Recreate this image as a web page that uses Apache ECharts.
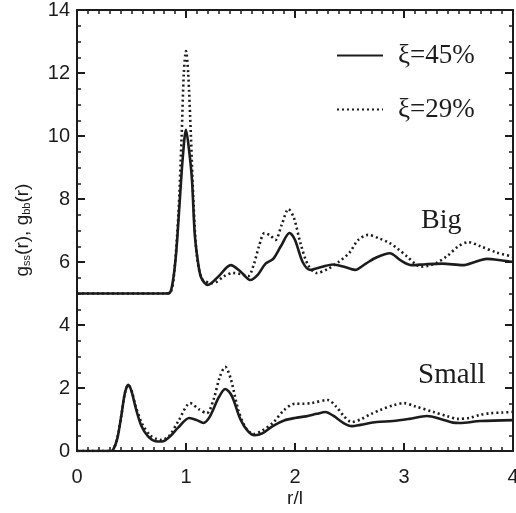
<!DOCTYPE html>
<html>
<head>
<meta charset="utf-8">
<script src="https://cdn.jsdelivr.net/npm/echarts@6/dist/echarts.min.js"></script>
<style>html,body{margin:0;padding:0;background:#fff}#c{width:516px;height:513px}</style>
</head>
<body>
<div id="c"></div>
<script>
// Series names
var nameA = 'ξ=45%';
var nameB = 'ξ=29%';
// Axis titles
var xTitle = 'r/l';
var yTitle = 'g{s|ss}(r), g{s|bb}(r)';
// Axis ticks
var xTicks = [0, 1, 2, 3, 4];
var yTicks = [0, 2, 4, 6, 8, 10, 12, 14];

// Big particles, xi = 45% (solid)
var bigR45 = [0,0.8,0.85,0.88,0.91,0.94,0.97,1.0,1.03,1.055,1.08,1.11,1.14,1.2,1.3,1.41,1.5,1.59,1.66,1.73,1.8,1.87,1.95,2.0,2.07,2.14,2.25,2.35,2.45,2.55,2.65,2.75,2.87,2.97,3.07,3.2,3.35,3.54,3.65,3.76,3.9,4.0];
var bigG45 = [5,5,5.02,5.4,6.3,7.8,9.3,10.2,9.5,8.6,6.9,6.0,5.5,5.27,5.55,5.9,5.7,5.43,5.6,5.95,6.1,6.5,6.92,6.7,6.0,5.75,5.85,5.92,5.85,5.75,5.95,6.15,6.28,6.05,5.9,5.93,5.95,5.9,6.0,6.1,6.05,6.0];
// Big particles, xi = 29% (dotted)
var bigR29 = [0,0.8,0.86,0.89,0.93,0.96,0.98,1.0,1.02,1.045,1.07,1.1,1.15,1.25,1.35,1.43,1.5,1.57,1.62,1.67,1.72,1.77,1.82,1.88,1.94,1.99,2.05,2.12,2.2,2.3,2.4,2.5,2.58,2.67,2.77,2.87,2.95,3.03,3.1,3.15,3.22,3.3,3.4,3.5,3.59,3.7,3.85,4.0];
var bigG29 = [5,5,5.05,5.6,7.5,10.0,12.0,12.7,12.0,10.0,7.8,6.2,5.45,5.33,5.55,5.65,5.62,5.55,5.9,6.5,6.92,6.85,6.7,7.2,7.68,7.4,6.6,5.9,5.65,5.78,6.0,6.3,6.7,6.86,6.75,6.6,6.4,6.17,5.95,5.85,5.88,5.97,6.2,6.5,6.63,6.5,6.3,6.17];
// Small particles, xi = 45% (solid)
var smallR45 = [0,0.3,0.33,0.37,0.41,0.44,0.47,0.5,0.54,0.59,0.65,0.72,0.78,0.85,0.93,1.03,1.1,1.16,1.22,1.3,1.36,1.42,1.5,1.57,1.63,1.7,1.8,1.9,2.0,2.1,2.2,2.28,2.35,2.45,2.52,2.6,2.75,2.9,3.05,3.21,3.35,3.45,3.51,3.7,4.0];
var smallG45 = [0,0,0.03,0.4,1.2,1.85,2.1,1.9,1.35,0.8,0.47,0.31,0.3,0.45,0.75,1.05,0.98,0.89,1.1,1.7,1.97,1.75,1.0,0.62,0.5,0.56,0.8,0.97,1.05,1.1,1.18,1.24,1.12,0.88,0.79,0.83,0.92,0.95,1.02,1.11,1.0,0.9,0.89,0.95,0.98];
// Small particles, xi = 29% (dotted)
var smallR29 = [0,0.3,0.33,0.37,0.41,0.44,0.47,0.5,0.54,0.6,0.67,0.73,0.78,0.85,0.93,1.04,1.12,1.19,1.25,1.31,1.36,1.41,1.48,1.55,1.62,1.7,1.8,1.9,2.0,2.07,2.15,2.3,2.38,2.45,2.52,2.6,2.7,2.78,2.9,3.0,3.1,3.27,3.4,3.49,3.6,3.7,3.79,3.9,4.0];
var smallG29 = [0,0,0.03,0.4,1.2,1.85,2.1,1.92,1.4,0.85,0.5,0.38,0.35,0.5,0.95,1.52,1.32,1.2,1.6,2.35,2.67,2.3,1.3,0.72,0.54,0.65,0.9,1.3,1.5,1.5,1.52,1.62,1.4,1.1,0.92,1.0,1.18,1.3,1.45,1.52,1.42,1.24,1.1,1.02,1.05,1.15,1.2,1.22,1.24];

function pairs(r, g) { return r.map(function (v, i) { return [v, g[i]]; }); }

var ink = '#1c1c1c';
var sans = '"Liberation Sans", Arial, sans-serif';
var serif = '"Liberation Serif", "Times New Roman", serif';

function ax(kind, pos, showLabel) {
  var isX = kind === 'x';
  return {
    type: 'value', position: pos,
    min: 0, max: isX ? 4 : 14, interval: isX ? 1 : 2,
    axisLine: { show: true, onZero: false, lineStyle: { color: ink, width: 2 } },
    axisTick: { show: true, inside: true, length: 8, lineStyle: { color: ink, width: 2 } },
    minorTick: { show: true, splitNumber: isX ? 10 : 4, length: 4, lineStyle: { color: ink, width: 1.5 } },
    splitLine: { show: false },
    axisLabel: { show: showLabel, fontFamily: sans, fontSize: 20, color: ink, margin: isX ? 16 : 7 }
  };
}

var solid = { color: ink, width: 2.6, type: 'solid' };
var dotted = { color: ink, width: 2.6, type: [2, 3] };

function ser(name, data, ls) {
  return {
    name: name, type: 'line', data: data, showSymbol: false, symbol: 'none',
    smooth: 0.3, lineStyle: ls,
    xAxisIndex: 0, yAxisIndex: 0
  };
}

var chart = echarts.init(document.getElementById('c'));
chart.setOption({
  animation: false,
  grid: { left: 77, right: 3, top: 10, bottom: 62, outerBoundsMode: 'none' },
  xAxis: [ax('x', 'bottom', true), ax('x', 'top', false)],
  yAxis: [ax('y', 'left', true), ax('y', 'right', false)],
  legend: {
    data: [nameA, nameB],
    orient: 'vertical', left: 331, top: 37,
    itemWidth: 46, itemHeight: 14, itemGap: 27,
    itemStyle: { opacity: 0 },
    textStyle: { fontFamily: serif, fontSize: 27, color: ink, padding: [0, 0, 0, 10] },
    selectedMode: false
  },
  graphic: [
    { type: 'text', left: 421, top: 207, style: { text: 'Big', fontFamily: serif, fontSize: 28, fill: ink } },
    { type: 'text', left: 418, top: 361, style: { text: 'Small', fontFamily: serif, fontSize: 29, fill: ink } },
    { type: 'text', x: 295, y: 499, style: { text: xTitle, fontFamily: sans, fontSize: 19, fill: ink, align: 'center', verticalAlign: 'middle' } },
    { type: 'text', x: 23, y: 230, rotation: Math.PI / 2,
      style: { text: yTitle, fontFamily: sans, fontSize: 19, fill: ink, align: 'center', verticalAlign: 'middle',
        rich: { s: { fontFamily: sans, fontSize: 11, fill: ink, verticalAlign: 'bottom', padding: [8, 0, 0, 0] } } } }
  ],
  series: [
    ser(nameA, pairs(bigR45, bigG45), solid),
    ser(nameB, pairs(bigR29, bigG29), dotted),
    ser(nameA, pairs(smallR45, smallG45), solid),
    ser(nameB, pairs(smallR29, smallG29), dotted)
  ]
});
</script>
</body>
</html>
